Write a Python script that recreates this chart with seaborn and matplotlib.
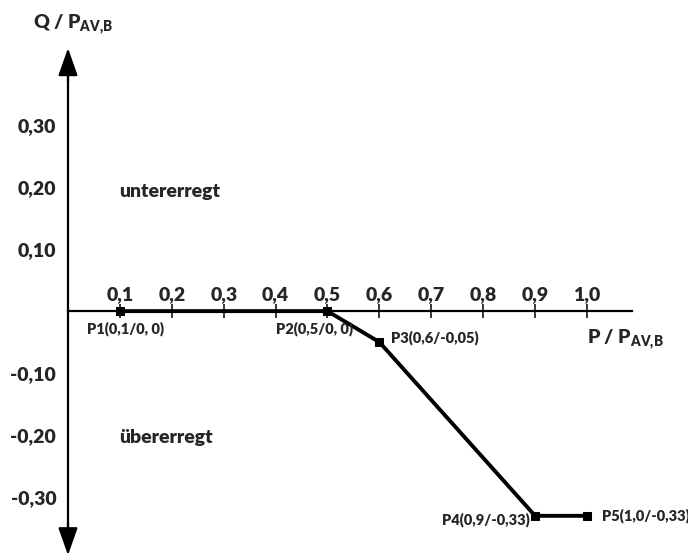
import matplotlib
matplotlib.use('Agg')
import matplotlib.pyplot as plt
import seaborn as sns

# characteristic curve Q(P)
P = [0.1, 0.5, 0.6, 0.9, 1.0]
Q = [0.0, 0.0, -0.05, -0.33, -0.33]
point_labels = ['P1(0,1/0, 0)', 'P2(0,5/0, 0)', 'P3(0,6/-0,05)', 'P4(0,9/-0,33)', 'P5(1,0/-0,33)']

x_ticks = [0.1, 0.2, 0.3, 0.4, 0.5, 0.6, 0.7, 0.8, 0.9, 1.0]
x_tick_labels = ['0,1', '0,2', '0,3', '0,4', '0,5', '0,6', '0,7', '0,8', '0,9', '1,0']
y_ticks = [-0.3, -0.2, -0.1, 0.1, 0.2, 0.3]
y_tick_labels = ['-0,30', '-0,20', '-0,10', '0,10', '0,20', '0,30']

region_labels = ['untererregt', 'übererregt']

W = 'heavy'


def setup_fonts():
    sns.set_style('white')
    plt.rcParams['font.family'] = ['Lato', 'DejaVu Sans']
    plt.rcParams['font.weight'] = W
    plt.rcParams['mathtext.fontset'] = 'custom'
    plt.rcParams['mathtext.rm'] = 'Lato:heavy'
    plt.rcParams['mathtext.it'] = 'Lato:heavy'
    plt.rcParams['mathtext.bf'] = 'Lato:heavy'


def draw_axes(ax):
    for side in ['right', 'bottom']:
        ax.spines[side].set_visible(False)
    ax.spines['left'].set_position(('data', 0))
    ax.spines['top'].set_position(('data', 0))
    ax.spines['left'].set_bounds(-0.36, 0.39)
    ax.spines['top'].set_bounds(0, 1.087)
    for side in ['left', 'top']:
        ax.spines[side].set_linewidth(1.6)
        ax.spines[side].set_color('black')

    ax.xaxis.tick_top()
    ax.set_xticks(x_ticks)
    ax.set_xticklabels(x_tick_labels, fontsize=14, fontweight=W)
    ax.set_yticks(y_ticks)
    ax.set_yticklabels(y_tick_labels, fontsize=14, fontweight=W)
    ax.tick_params(axis='x', direction='inout', length=9.5, width=1.3, pad=1)
    ax.tick_params(axis='y', direction='inout', length=11, width=1.3, pad=3)

    # arrow heads on the Q axis
    head = dict(arrowstyle='-|>,head_length=0.85,head_width=0.3', color='black',
                lw=1.6, mutation_scale=20, shrinkA=0, shrinkB=0)
    ax.annotate('', xy=(0, 0.424), xytext=(0, 0.37), arrowprops=head)
    ax.annotate('', xy=(0, -0.3935), xytext=(0, -0.34), arrowprops=head)

    ax.text(0.01, 0.461, r'Q / P$_{\mathrm{AV{,}B}}$', fontsize=14, fontweight=W,
            ha='center', va='center')
    ax.text(1.073, -0.047, r'P / P$_{\mathrm{AV{,}B}}$', fontsize=14, fontweight=W,
            ha='center', va='center')


def plot_curve(ax):
    sns.lineplot(x=P, y=Q, sort=False, color='black', linewidth=2.8,
                 marker='s', markersize=5.5, markeredgecolor='black', ax=ax)
    offsets = [(-24, -13, 'left'), (-37, -13, 'left'), (8.5, 3.5, 'left'),
               (-3.5, -3, 'right'), (10.5, 0, 'left')]
    for x, y, lab, (dx, dy, ha) in zip(P, Q, point_labels, offsets):
        ax.annotate(lab, xy=(x, y), xytext=(dx, dy), textcoords='offset points',
                    fontsize=10.5, fontweight=W, ha=ha, va='center')

    ax.text(0.098, 0.1935, region_labels[0], fontsize=14, fontweight=W,
            ha='left', va='center')
    ax.text(0.098, -0.203, region_labels[1], fontsize=14, fontweight=W,
            ha='left', va='center')


def main():
    setup_fonts()
    fig = plt.figure(figsize=(6.88, 5.58), dpi=100)
    ax = fig.add_axes([0, 0, 1, 1])
    ax.set_facecolor('white')
    ax.set_xlim(-0.131, 1.1946)
    ax.set_ylim(-0.398, 0.5016)
    plot_curve(ax)
    draw_axes(ax)
    ax.set_xlabel('')
    ax.set_ylabel('')
    fig.savefig('out.png', dpi=100, facecolor='white')
    plt.close(fig)


if "__main__" == __name__:
    main()
